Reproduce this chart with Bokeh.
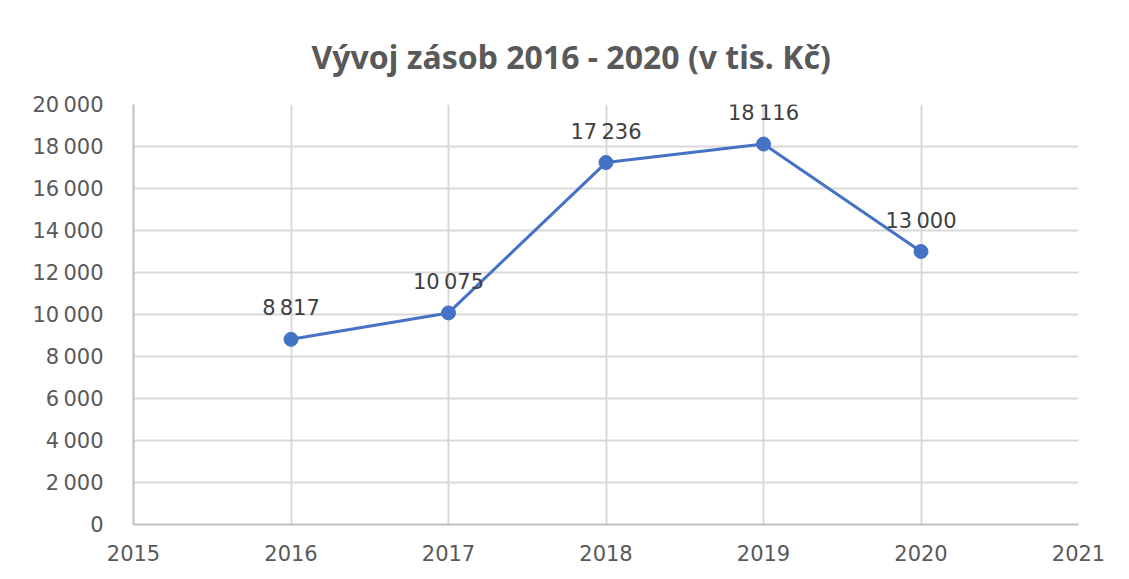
from bokeh.plotting import figure
from bokeh.models import ColumnDataSource, FixedTicker, LabelSet, Range1d
from bokeh.core.properties import value
from bokeh.embed import file_html
from bokeh.resources import INLINE

years = [2016, 2017, 2018, 2019, 2020]
values = [8817, 10075, 17236, 18116, 13000]
x_ticks = [2015, 2016, 2017, 2018, 2019, 2020, 2021]
y_ticks = [0, 2000, 4000, 6000, 8000, 10000, 12000, 14000, 16000, 18000, 20000]
title_text = "Vývoj zásob 2016 - 2020 (v tis. Kč)"


def fmt(v):
    return f"{v:,}".replace(",", "\u2009")


labels = [fmt(v) for v in values]

src = ColumnDataSource(data=dict(x=years, y=values, lab=labels))

p = figure(
    frame_width=945, frame_height=420,
    min_border_left=133, min_border_right=35, min_border_top=104, min_border_bottom=48,
    x_range=Range1d(2015, 2021), y_range=Range1d(0, 20000),
    output_backend="svg", toolbar_location=None, title=title_text,
)

p.title.text_font = "Noto Sans"
p.title.text_font_size = "32px"
p.title.text_font_style = "bold"
p.title.text_color = "#595959"
p.title.align = "left"
p.title.offset = 178
p.title.standoff = 53

p.outline_line_color = None
p.background_fill_color = "white"
p.border_fill_color = "white"

for ax in (p.xaxis[0], p.yaxis[0]):
    ax.axis_line_color = "#bfbfbf"
    ax.axis_line_width = 2
    ax.major_tick_line_color = None
    ax.minor_tick_line_color = None
    ax.major_label_text_color = "#595959"
    ax.major_label_text_font = "DejaVu Sans"
    ax.major_label_text_font_size = "21px"

p.xaxis.ticker = FixedTicker(ticks=x_ticks)
p.xaxis.major_label_standoff = 14
p.yaxis.ticker = FixedTicker(ticks=y_ticks)
p.yaxis.major_label_overrides = {v: fmt(v) for v in y_ticks}
p.yaxis.major_label_standoff = 24

p.xgrid.ticker = FixedTicker(ticks=x_ticks)
p.ygrid.ticker = FixedTicker(ticks=y_ticks)
for g in (p.xgrid[0], p.ygrid[0]):
    g.grid_line_color = "#d9d9d9"
    g.grid_line_width = 2

p.line("x", "y", source=src, line_color="#4472c4", line_width=3)
p.scatter("x", "y", source=src, size=14, fill_color="#4472c4", line_color="#4472c4")

lbl = LabelSet(x="x", y="y", text="lab", source=src, text_align="center",
               text_baseline="bottom", y_offset=19, text_font=value("DejaVu Sans"),
               text_font_size="21px", text_color="#404040")
p.add_layout(lbl)

open("out.html", "w").write(file_html(p, INLINE))
